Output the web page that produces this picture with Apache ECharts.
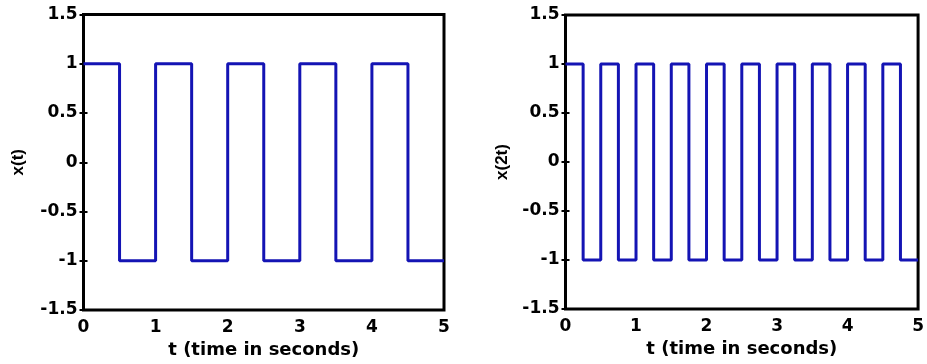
<!DOCTYPE html>
<html>
<head>
<meta charset="utf-8">
<script src="https://cdn.jsdelivr.net/npm/echarts@6/dist/echarts.min.js"></script>
<style>html,body{margin:0;padding:0;background:#fff;}#c{width:927px;height:364px;}</style>
</head>
<body>
<div id="c"></div>
<script>
// Left panel: x(t) square wave (value 0 at each switching instant)
const leftT = [0,0.5,0.5,0.5,1,1,1,1.5,1.5,1.5,2,2,2,2.5,2.5,2.5,3,3,3,3.5,3.5,3.5,4,4,4,4.5,4.5,4.5,5];
const leftX = [1,1,0,-1,-1,0,1,1,0,-1,-1,0,1,1,0,-1,-1,0,1,1,0,-1,-1,0,1,1,0,-1,-1];
// Right panel: x(2t)
const rightT = [0,0.25,0.25,0.25,0.5,0.5,0.5,0.75,0.75,0.75,1,1,1,1.25,1.25,1.25,1.5,1.5,1.5,1.75,1.75,1.75,2,2,2,2.25,2.25,2.25,2.5,2.5,2.5,2.75,2.75,2.75,3,3,3,3.25,3.25,3.25,3.5,3.5,3.5,3.75,3.75,3.75,4,4,4,4.25,4.25,4.25,4.5,4.5,4.5,4.75,4.75,4.75,5];
const rightX = [1,1,0,-1,-1,0,1,1,0,-1,-1,0,1,1,0,-1,-1,0,1,1,0,-1,-1,0,1,1,0,-1,-1,0,1,1,0,-1,-1,0,1,1,0,-1,-1,0,1,1,0,-1,-1,0,1,1,0,-1,-1,0,1,1,0,-1,-1];
const xTicks = [0, 5, 1];      // min, max, interval
const yTicks = [-1.5, 1.5, 0.5];
const xName = 't (time in seconds)';
const yNames = ['x(t)', 'x(2t)'];

const FONT = 'DejaVu Sans';
const lblStyle = {color:'#000', fontFamily:FONT, fontWeight:'bold', fontSize:17};
const tick = {show:true, inside:true, length:4, lineStyle:{color:'#000', width:2}};

function xAx(grid, pos, main){
  return {type:'value', gridIndex:grid, position:pos, min:xTicks[0], max:xTicks[1], interval:xTicks[2],
    axisLine:{show:false}, axisTick:tick, splitLine:{show:false},
    axisLabel:{show:main, margin:9, ...lblStyle},
    name: main ? xName : '', nameLocation:'middle', nameGap:23,
    nameTextStyle:{...lblStyle, fontSize:18}};
}
function yAx(grid, pos, main, name, gap){
  return {type:'value', gridIndex:grid, position:pos, min:yTicks[0], max:yTicks[1], interval:yTicks[2],
    axisLine:{show:false}, axisTick:tick, splitLine:{show:false},
    axisLabel:{show:main, margin:6, ...lblStyle},
    name: main ? name : '', nameLocation:'middle', nameGap:gap,
    nameTextStyle:{...lblStyle, fontFamily:'Liberation Sans', fontSize:17}};
}

const chart = echarts.init(document.getElementById('c'), null, {renderer:'canvas'});
chart.setOption({
  backgroundColor:'#fff',
  animation:false,
  grid:[
    {left:83.5, right:483, top:14.5, bottom:54, show:true, borderColor:'#000', borderWidth:3, backgroundColor:'transparent'},
    {left:565.5, right:4.5, top:15, bottom:55, show:true, borderColor:'#000', borderWidth:3, backgroundColor:'transparent'}
  ],
  xAxis:[ xAx(0,'bottom',true), xAx(0,'top',false), xAx(1,'bottom',true), xAx(1,'top',false) ],
  yAxis:[ yAx(0,'left',true,yNames[0],57), yAx(0,'right',false,'',0), yAx(1,'left',true,yNames[1],55), yAx(1,'right',false,'',0) ],
  series:[
    {type:'line', xAxisIndex:0, yAxisIndex:0, showSymbol:false, symbol:'none',
     lineStyle:{color:'#1414b4', width:3}, data:leftT.map((t,i)=>[t,leftX[i]])},
    {type:'line', xAxisIndex:2, yAxisIndex:2, showSymbol:false, symbol:'none',
     lineStyle:{color:'#1414b4', width:3}, data:rightT.map((t,i)=>[t,rightX[i]])}
  ]
});
</script>
</body>
</html>
